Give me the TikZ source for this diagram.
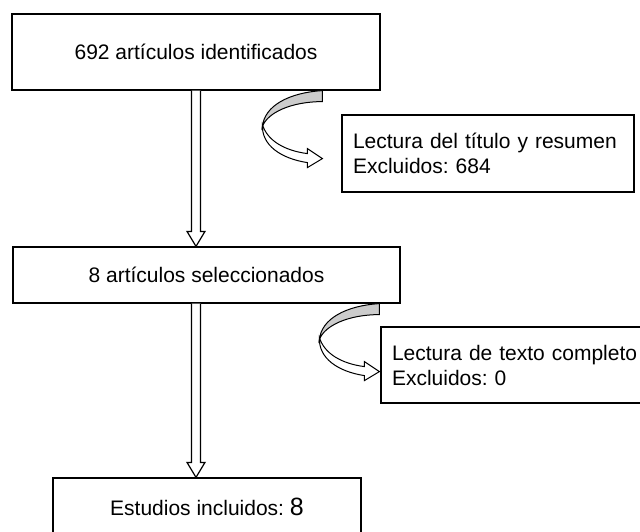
\documentclass[tikz,border=0pt]{standalone}
\usepackage{fontspec}
\setmainfont{Liberation Sans}
\usetikzlibrary{calc}
\frenchspacing

\begin{document}
\begin{tikzpicture}[x=1pt, y=-1pt, line width=1.2pt,
  box/.style = {draw, fill=white, inner sep=0pt, font=\fontsize{21}{25}\selectfont},
  note/.style = {box, align=left, text width=270pt, inner xsep=11pt},
  hollow/.style = {draw, fill=white, line join=miter},
  turn/.pic = {
    \draw[line width=1pt, fill=black!20] (0,0) .. controls (-33,2) and (-58,15) .. (-60,36)
      .. controls (-55,22) and (-31,11) .. (0,11) -- cycle;
    \draw[line width=1pt, fill=white, line join=miter] (-60,34) .. controls (-61,55) and (-41,68) .. (-15,72)
      -- (-15,77) -- (0,68) -- (-15,58) -- (-15,63) .. controls (-38,60) and (-55,50) .. (-60,34) -- cycle;
  }]
\useasboundingbox (0,0) rectangle (640,531);
\clip (0,0) rectangle (640,531);
\node[box, minimum width=368pt, minimum height=76pt] (1) at (196,52) {692 artículos identificados};
\node[box, minimum width=387pt, minimum height=56pt] (2) at (206.5,275) {8 artículos seleccionados};
\node[box, minimum width=308pt, minimum height=58pt] (3) at (207,507) {Estudios incluidos: {\fontsize{25}{25}\selectfont 8}};
\node[note, minimum height=77pt] (4) at (488,153.5) {Lectura del título y resumen\\Excluidos: 684};
\node[note, minimum height=76pt] (5) at (527,365) {Lectura de texto completo\\Excluidos: 0};
\draw[hollow] ($(1.south)+(-4.5,0)$) -- ($(1.south |- 2.north)+(-4.5,-15)$) -- ($(1.south |- 2.north)+(-9,-15)$)
  -- (1.south |- 2.north) -- ($(1.south |- 2.north)+(9,-15)$) -- ($(1.south |- 2.north)+(4.5,-15)$) -- ($(1.south)+(4.5,0)$);
\draw[hollow] ($(1.south |- 2.south)+(-4.5,0)$) -- ($(1.south |- 3.north)+(-4.5,-15)$) -- ($(1.south |- 3.north)+(-9,-15)$)
  -- (1.south |- 3.north) -- ($(1.south |- 3.north)+(9,-15)$) -- ($(1.south |- 3.north)+(4.5,-15)$) -- ($(1.south |- 2.south)+(4.5,0)$);
\pic at ($(1.south -| 4.west)+(-19,0)$) {turn};
\pic at ($(2.south -| 5.west)+(-1,0)$) {turn};
\end{tikzpicture}
\end{document}
